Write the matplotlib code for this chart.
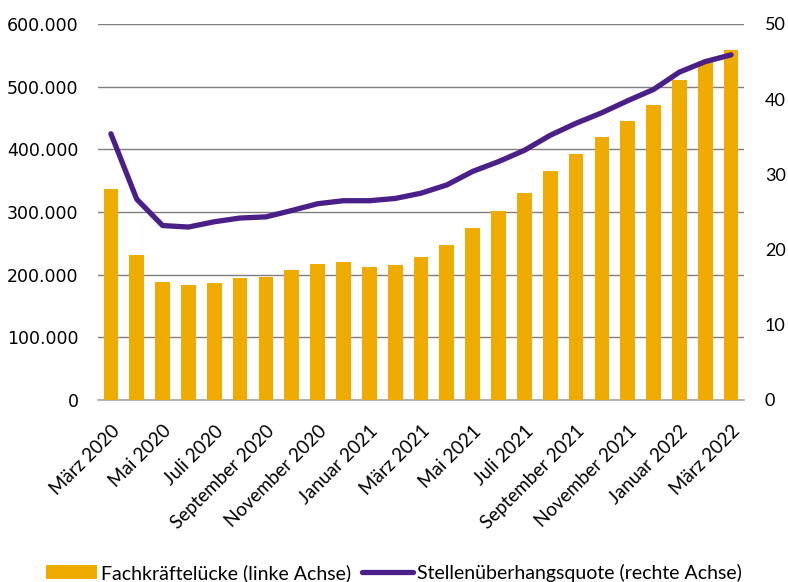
import matplotlib
matplotlib.use("Agg")
import matplotlib.pyplot as plt
from matplotlib.ticker import FuncFormatter

# monthly values, März 2020 .. März 2022
months = ["März 2020", "April 2020", "Mai 2020", "Juni 2020", "Juli 2020",
          "August 2020", "September 2020", "Oktober 2020", "November 2020",
          "Dezember 2020", "Januar 2021", "Februar 2021", "März 2021",
          "April 2021", "Mai 2021", "Juni 2021", "Juli 2021", "August 2021",
          "September 2021", "Oktober 2021", "November 2021", "Dezember 2021",
          "Januar 2022", "Februar 2022", "März 2022"]
luecke = [337000, 231000, 188000, 183000, 187000, 194000, 197000, 208000,
          217500, 221000, 212000, 215000, 228000, 247000, 275000, 301000,
          331000, 366000, 393000, 419500, 446000, 470000, 510000, 541000,
          558000]
quote = [35.4, 26.7, 23.2, 23.0, 23.7, 24.2, 24.35, 25.2, 26.1, 26.5, 26.5,
         26.8, 27.5, 28.6, 30.4, 31.7, 33.2, 35.2, 36.8, 38.2, 39.8, 41.3,
         43.6, 45.0, 45.9]

bar_col = '#F0AB00'
line_col = '#4A1F88'
lab_font = 'Lato'

fig = plt.figure(figsize=(7.88, 5.82), dpi=100)
ax = fig.add_axes([98/788, 1-400/582, 646/788, 376/582])
ax2 = ax.twinx()

x = list(range(len(months)))
bars = ax.bar(x, luecke, width=0.57, color=bar_col, zorder=3,
              label='Fachkräftelücke (linke Achse)')
line, = ax2.plot(x, quote, color=line_col, lw=3.8, solid_capstyle='round',
                 solid_joinstyle='round', zorder=4,
                 label='Stellenüberhangsquote (rechte Achse)')

ax.set_xlim(-0.5, 24.5)
ax.set_ylim(0, 600000)
ax2.set_ylim(0, 50)
ax.set_yticks(range(0, 600001, 100000))
ax2.set_yticks(range(0, 51, 10))
ax.yaxis.set_major_formatter(FuncFormatter(lambda v, p: f"{int(v):,}".replace(',', '.')))
ax.grid(axis='y', color='#7f7f7f', lw=1, zorder=0)
ax.set_axisbelow(True)

for a in (ax, ax2):
    for s in a.spines.values():
        s.set_visible(False)
    a.tick_params(length=0)
ax.spines['bottom'].set_visible(True)
ax.spines['bottom'].set_color('#a6a6a6')
ax.spines['bottom'].set_linewidth(1.2)

ax.tick_params(axis='y', labelsize=12.5, pad=14)
for t in ax2.get_yticklabels():
    t.set_fontfamily(lab_font)
    t.set_fontsize(13)
ax2.tick_params(axis='y', pad=15)

ax.set_xticks(x[::2])
ax.set_xticklabels(months[::2], rotation=45, ha='right', rotation_mode='anchor',
                   fontsize=13.5, fontfamily=lab_font)
ax.tick_params(axis='x', pad=16)

ax2.set_zorder(ax.get_zorder() + 1)
ax2.patch.set_visible(False)

fig.legend(handles=[bars, line], loc='lower center', bbox_to_anchor=(0.5, -0.03),
           ncol=2, frameon=False, prop={'family': lab_font, 'size': 14},
           handlelength=2.6, handletextpad=0.2, columnspacing=0.6)

fig.savefig('out.png', dpi=100)
